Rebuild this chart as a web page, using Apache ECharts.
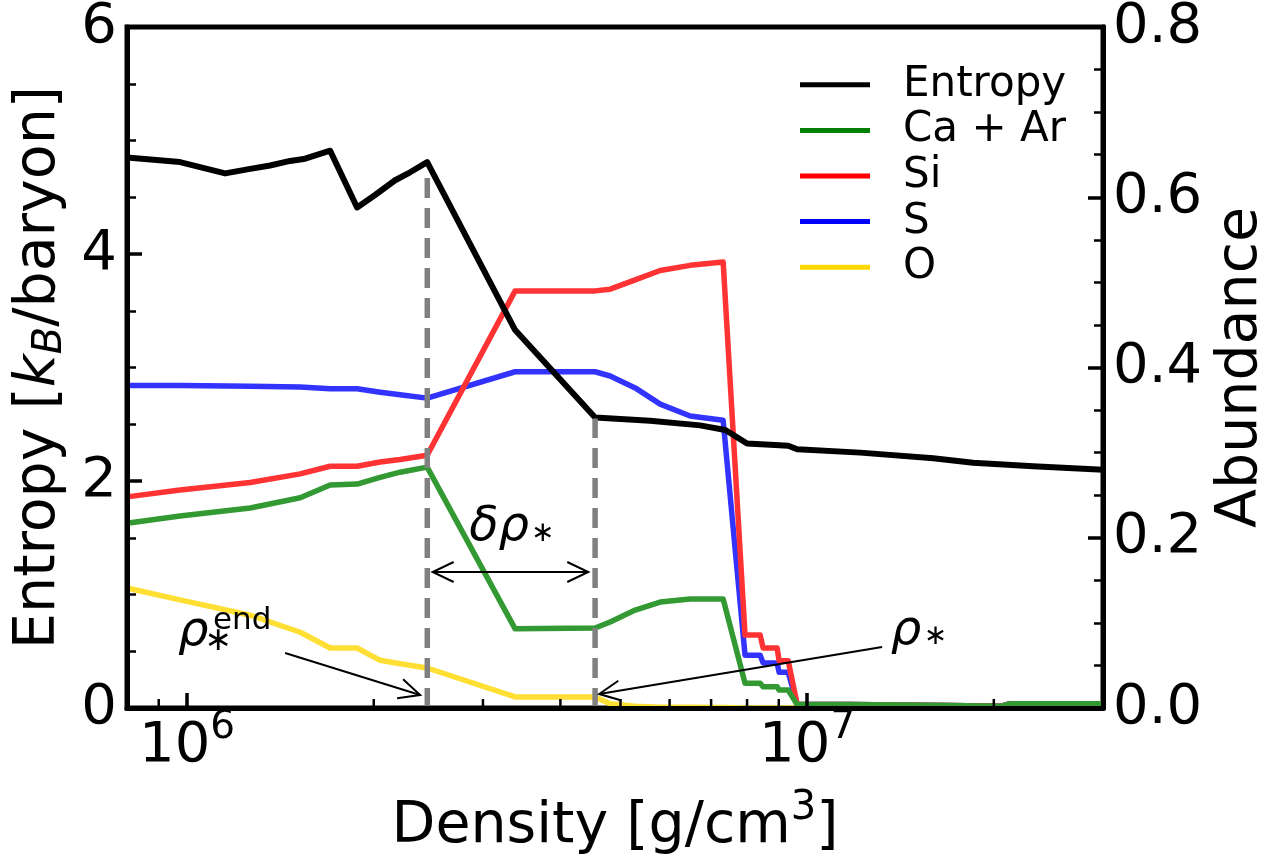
<!DOCTYPE html>
<html><head><meta charset="utf-8">
<script src="https://cdn.jsdelivr.net/npm/echarts@6/dist/echarts.min.js"></script>
<style>html,body{margin:0;padding:0;background:#fff}#c{width:1263px;height:854px}</style>
</head><body><div id="c"></div>
<script>
// ---------- data ----------
const entropyDensity = [8.0e5, 9.74e5, 1.152e6, 1.264e6, 1.361e6, 1.466e6, 1.550e6, 1.701e6, 1.880e6, 2.010e6, 2.165e6, 2.289e6, 2.439e6, 3.381e6, 4.550e6, 5.581e6, 6.72e6, 7.38e6, 8.00e6, 8.72e6, 9.32e6, 9.636e6, 1.218e7, 1.597e7, 1.852e7, 2.314e7, 3.0e7];
const entropy = [4.85, 4.81, 4.71, 4.75, 4.78, 4.82, 4.84, 4.91, 4.41, 4.52, 4.65, 4.72, 4.81, 3.33, 2.56, 2.53, 2.49, 2.45, 2.33, 2.32, 2.31, 2.28, 2.25, 2.20, 2.16, 2.13, 2.10];

const abundDensity = [8.0e5, 9.74e5, 1.264e6, 1.522e6, 1.701e6, 1.880e6, 2.048e6, 2.206e6, 2.439e6, 3.381e6, 4.550e6, 4.812e6, 5.280e6, 5.794e6, 6.477e6, 7.320e6, 7.94e6, 8.40e6, 8.49e6, 8.945e6, 9.01e6, 9.32e6, 9.636e6, 1.173e7, 1.701e7, 2.048e7, 2.126e7, 3.0e7];
const caAr = [0.217, 0.2255, 0.235, 0.247, 0.262, 0.263, 0.271, 0.277, 0.283, 0.093, 0.094, 0.101, 0.115, 0.1245, 0.128, 0.128, 0.029, 0.029, 0.025, 0.025, 0.021, 0.021, 0.004, 0.004, 0.003, 0.002, 0.005, 0.005];
const si   = [0.248, 0.256, 0.265, 0.275, 0.284, 0.284, 0.289, 0.292, 0.297, 0.490, 0.490, 0.492, 0.503, 0.514, 0.520, 0.524, 0.0857, 0.0857, 0.0705, 0.0705, 0.0556, 0.0556, 0.004, 0.004, 0.003, 0.002, 0.005, 0.005];
const sul  = [0.379, 0.379, 0.378, 0.377, 0.375, 0.375, 0.371, 0.368, 0.364, 0.395, 0.395, 0.390, 0.376, 0.357, 0.343, 0.338, 0.062, 0.062, 0.053, 0.053, 0.042, 0.042, 0.004, 0.004, 0.003, 0.002, 0.005, 0.005];
const oxy  = [0.141, 0.127, 0.109, 0.089, 0.0705, 0.0705, 0.056, 0.052, 0.047, 0.013, 0.013, 0.005, 0.002, 0.001, 0.001, 0.0005, 0, 0, 0, 0, 0, 0, 0, 0, 0, 0, 0, 0];

const xMinorTicks = [9e5, 2e6, 3e6, 4e6, 5e6, 6e6, 7e6, 8e6, 9e6, 2e7];
const legendNames = ['Entropy', 'Ca + Ar', 'Si', 'S', 'O'];
const legendColors = ['#000000', '#008000', '#ff0000', '#0000ff', '#ffd700'];
const rhoEndLine = [2.44e6, 4.72];   // [density, entropy top]
const rhoStarLine = [4.55e6, 2.55];

// annotation anchors in data coordinates (density, entropy)
const labelRhoEnd = [1.023e6, 0.664];
const labelDelta = [3.186e6, 1.586];
const labelRhoStar = [1.444e7, 0.670];
const arrowEnd = [[1.439e6, 0.485], [2.376e6, 0.115]];
const arrowStar = [[1.321e7, 0.537], [4.62e6, 0.123]];
const arrowDelta = [[2.489e6, 1.198], [4.436e6, 1.198]];

// ---------- chart ----------
const F = 'DejaVu Sans';
const chart = echarts.init(document.getElementById('c'), null, {renderer: 'canvas'});

function mk(name, dens, vals, color, width, z, yIdx) {
  return {
    name, type: 'line', xAxisIndex: 0, yAxisIndex: yIdx,
    data: dens.map((d, i) => [d, vals[i]]),
    showSymbol: false, symbol: 'none', z, silent: true,
    lineStyle: {color, width, join: 'round', cap: 'butt'},
    itemStyle: {color}
  };
}
function vline(pt) {
  return {
    type: 'line', xAxisIndex: 0, yAxisIndex: 0, z: 9, silent: true,
    data: [[pt[0], 0], [pt[0], pt[1]]], showSymbol: false, symbol: 'none',
    lineStyle: {color: '#808080', width: 5.5, type: [20, 10]}
  };
}

const tickFont = {fontSize: 56, fontFamily: F, color: '#000'};

const option = {
  animation: false,
  backgroundColor: '#fff',
  grid: {left: 127, right: 160, top: 27, bottom: 146, show: true, borderColor: '#000', borderWidth: 5, backgroundColor: 'transparent', containLabel: false, outerBoundsMode: 'none'},
  legend: {
    orient: 'vertical', left: 800, top: 62, padding: 0, itemWidth: 70, itemHeight: 5, itemGap: 0,
    icon: 'rect',
    textStyle: {fontSize: 42, fontFamily: F, color: '#000', lineHeight: 45.6, padding: [0, 0, 0, 28]},
    data: legendNames.map((n, i) => ({name: n, icon: 'rect', itemStyle: {color: legendColors[i]}}))
  },
  xAxis: [{
    type: 'log', logBase: 10, min: 8e5, max: 3e7, z: 20,
    axisLine: {show: true, lineStyle: {color: '#000', width: 5}},
    axisTick: {show: true, inside: true, length: 15, lineStyle: {color: '#000', width: 3.5}},
    splitLine: {show: false},
    axisLabel: {
      showMinLabel: false, showMaxLabel: false, margin: 10,
      formatter: v => '{m|10}{s|' + Math.round(Math.log10(v)) + '}',
      rich: {m: {fontSize: 56, fontFamily: F, color: '#000'},
             s: {fontSize: 39, fontFamily: F, color: '#000', lineHeight: 39, padding: [0, 0, 36, 0]}}
    },
    name: '{m|Density [g/cm}{s|3}{m|]}', nameLocation: 'middle', nameGap: 70,
    nameTextStyle: {fontSize: 57, fontFamily: F, color: '#000',
      rich: {m: {fontSize: 57, fontFamily: F, color: '#000'},
             s: {fontSize: 40, fontFamily: F, color: '#000', lineHeight: 40, padding: [0, 0, 38, 0]}}}
  }],
  yAxis: [{
    type: 'value', min: 0, max: 6, interval: 2, position: 'left', z: 20,
    axisLine: {show: true, lineStyle: {color: '#000', width: 5}},
    axisTick: {show: true, inside: true, length: 15, lineStyle: {color: '#000', width: 3.5}},
    minorTick: {show: true, splitNumber: 4, length: 9, lineStyle: {color: '#000', width: 2.5}},
    splitLine: {show: false}, minorSplitLine: {show: false},
    axisLabel: Object.assign({margin: 10}, tickFont),
    name: '{m|Entropy [}{i|k}{sub|B}{m|/baryon]}', nameLocation: 'middle', nameGap: 52,
    nameTextStyle: {fontSize: 57, fontFamily: F, color: '#000',
      rich: {m: {fontSize: 57, fontFamily: F, color: '#000'},
             i: {fontSize: 57, fontFamily: F, fontStyle: 'italic', color: '#000'},
             sub: {fontSize: 40, fontFamily: F, fontStyle: 'italic', color: '#000', lineHeight: 40, padding: [22, 0, 0, 0]}}}
  }, {
    type: 'value', min: 0, max: 0.8, interval: 0.2, position: 'right', z: 20,
    axisLine: {show: true, lineStyle: {color: '#000', width: 5}},
    axisTick: {show: true, inside: true, length: 15, lineStyle: {color: '#000', width: 3.5}},
    minorTick: {show: true, splitNumber: 4, length: 9, lineStyle: {color: '#000', width: 2.5}},
    splitLine: {show: false}, minorSplitLine: {show: false},
    axisLabel: Object.assign({margin: 10, formatter: v => v.toFixed(1)}, tickFont),
    name: 'Abundance', nameLocation: 'middle', nameGap: 107,
    nameTextStyle: {fontSize: 57, fontFamily: F, color: '#000'}
  }],
  series: [
    mk('O', abundDensity, oxy, '#ffdf33', 5.5, 3, 1),
    mk('S', abundDensity, sul, '#3333ff', 5.5, 4, 1),
    mk('Si', abundDensity, si, '#ff3333', 5.5, 5, 1),
    mk('Ca + Ar', abundDensity, caAr, '#339933', 5.5, 6, 1),
    mk('Entropy', entropyDensity, entropy, '#000000', 6, 8, 0),
    vline(rhoEndLine),
    vline(rhoStarLine),
    {
      type: 'custom', xAxisIndex: 0, yAxisIndex: 0, silent: true, z: 30,
      data: xMinorTicks.map(v => [v, 0]),
      renderItem: (params, api) => {
        const p = api.coord([api.value(0), 0]);
        return {type: 'line', shape: {x1: p[0], y1: p[1], x2: p[0], y2: p[1] - 9},
                style: {stroke: '#000', lineWidth: 2.5}};
      }
    }
  ]
};
chart.setOption(option);

// ---------- annotations (positioned through the axes' scales) ----------
const px = p => chart.convertToPixel({xAxisIndex: 0, yAxisIndex: 0}, p);
function txt(p, dx, dy, text, size, italic) {
  return {type: 'text', x: p[0] + dx, y: p[1] + dy, z: 100, silent: true,
    style: {text, fontSize: size, fontFamily: F, fontStyle: italic ? 'italic' : 'normal',
            fill: '#000', align: 'center', verticalAlign: 'middle'}};
}
function arrow(a, b, both) {
  const A = px(a), B = px(b), out = [];
  out.push({type: 'line', z: 100, silent: true, shape: {x1: A[0], y1: A[1], x2: B[0], y2: B[1]},
            style: {stroke: '#000', lineWidth: 2}});
  const head = (tip, tail) => {
    const dx = tail[0] - tip[0], dy = tail[1] - tip[1], L = Math.hypot(dx, dy);
    const ux = dx / L, uy = dy / L, nx = -uy, ny = ux;
    out.push({type: 'polyline', z: 100, silent: true,
      shape: {points: [[tip[0] + ux * 21 + nx * 10, tip[1] + uy * 21 + ny * 10], tip,
                       [tip[0] + ux * 21 - nx * 10, tip[1] + uy * 21 - ny * 10]]},
      style: {stroke: '#000', lineWidth: 2, fill: 'none'}});
  };
  head(B, A);
  if (both) head(A, B);
  return out;
}
const pE = px(labelRhoEnd), pD = px(labelDelta), pS = px(labelRhoStar);
const graphics = [
  txt(pE, 0, 0, 'ρ', 48, true),
  txt(pE, 49, -11.3, 'end', 31, false),
  txt(pE, 25, 8.4, '∗', 33, false),
  txt(pD, 0, 0, 'δρ', 48, true),
  txt(pD, 43.5, 5.5, '∗', 28, false),
  txt(pS, 0, 0, 'ρ', 48, true),
  txt(pS, 29.5, 5, '∗', 28, false)
].concat(arrow(arrowEnd[0], arrowEnd[1], false),
         arrow(arrowStar[0], arrowStar[1], false),
         arrow(arrowDelta[0], arrowDelta[1], true));
chart.setOption({graphic: graphics});
</script>
</body></html>
